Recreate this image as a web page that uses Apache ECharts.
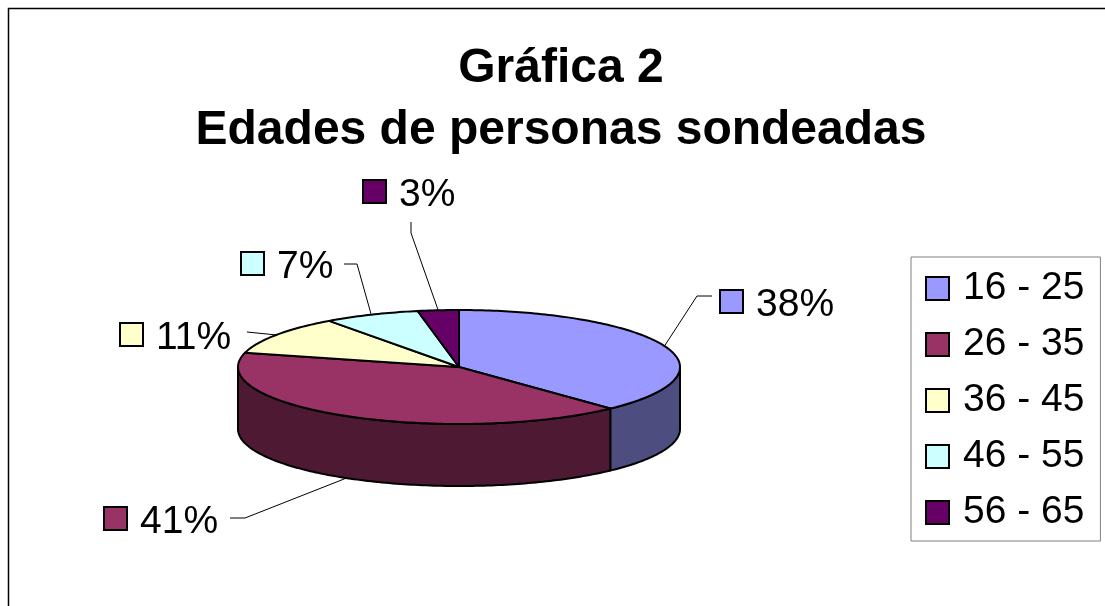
<!DOCTYPE html>
<html>
<head>
<meta charset="utf-8">
<title>Gráfica 2</title>
<script src="https://cdn.jsdelivr.net/npm/echarts@6/dist/echarts.min.js"></script>
<style>
  html, body { margin: 0; padding: 0; background: #fff; }
  #main { width: 1105px; height: 606px; }
</style>
</head>
<body>
<div id="main"></div>
<script>
var categories = ["16 - 25", "26 - 35", "36 - 45", "46 - 55", "56 - 65"];
var percentages = [38, 41, 11, 7, 3];

var topColors = ["#9999FF", "#993366", "#FFFFCC", "#CCFFFF", "#660066"];
var sideColors = ["#4D4D80", "#4D1933", "#808066", "#668080", "#330033"];

// flattened 3d pie, angles are degrees clockwise from north
var pie = { cx: 459, cy: 367, rx: 221, ry: 57, depth: 62 };

// key box corner, text start and leader elbows for each percent label
var labelLayout = [
  { box: [720, 290], text: [756, 305], elbows: [[697, 296], [712, 296]], onSide: false },
  { box: [104, 507], text: [140, 522], elbows: [[245, 518], [230, 518]], onSide: true },
  { box: [120, 323], text: [156, 338], elbows: [[247, 332]], onSide: false },
  { box: [241, 252], text: [277, 267], elbows: [[357, 264], [344, 264]], onSide: false },
  { box: [363, 180], text: [399, 195], elbows: [[411, 233], [411, 222]], onSide: false },
];

function ellipsePoint(deg, drop) {
  var r = (deg * Math.PI) / 180;
  return [
    pie.cx + pie.rx * Math.sin(r),
    pie.cy - pie.ry * Math.cos(r) + (drop || 0),
  ];
}

function arcPoints(from, to, drop) {
  var pts = [];
  var steps = Math.max(2, Math.ceil(Math.abs(to - from)));
  for (var i = 0; i <= steps; i++) {
    pts.push(ellipsePoint(from + ((to - from) * i) / steps, drop));
  }
  return pts;
}

function startPercent(index) {
  var sum = 0;
  for (var i = 0; i < index; i++) sum += percentages[i];
  return sum;
}

function makeRenderItem(index) {
  return function (params, api) {
    var value = api.value(0);
    var start = startPercent(index);
    var a0 = start * 3.6;
    var a1 = (start + value) * 3.6;
    var mid = (a0 + a1) / 2;
    var layout = labelLayout[index];
    var children = [];
    var edge = { stroke: "#000", lineWidth: 2, lineJoin: "round" };

    // the rim only shows on the front half
    var s0 = Math.max(a0, 90);
    var s1 = Math.min(a1, 270);
    if (s1 > s0) {
      children.push({
        type: "polygon",
        shape: { points: arcPoints(s0, s1, 0).concat(arcPoints(s1, s0, pie.depth)) },
        style: Object.assign({ fill: sideColors[index] }, edge),
      });
    }

    children.push({
      type: "polygon",
      shape: { points: [[pie.cx, pie.cy]].concat(arcPoints(a0, a1, 0)) },
      style: Object.assign({ fill: topColors[index] }, edge),
    });

    var anchor = ellipsePoint(mid, layout.onSide ? pie.depth : 0);
    children.push({
      type: "polyline",
      shape: { points: [anchor].concat(layout.elbows) },
      style: { stroke: "#000", lineWidth: 1, fill: null },
    });

    children.push({
      type: "rect",
      shape: { x: layout.box[0], y: layout.box[1], width: 23, height: 23 },
      style: { fill: topColors[index], stroke: "#000", lineWidth: 2 },
    });

    children.push({
      type: "text",
      style: {
        text: value + "%",
        x: layout.text[0],
        y: layout.text[1],
        fill: "#000",
        font: "39px 'Liberation Sans', Arial, sans-serif",
        textVerticalAlign: "middle",
      },
    });

    return { type: "group", children: children };
  };
}

var chartDom = document.getElementById("main");
var myChart = echarts.init(chartDom);

var series = categories.map(function (name, i) {
  return {
    name: name,
    type: "custom",
    coordinateSystem: "none",
    silent: true,
    itemStyle: { color: topColors[i] },
    data: [[percentages[i]]],
    renderItem: makeRenderItem(i),
  };
});

var option = {
  animation: false,
  backgroundColor: "#fff",
  title: {
    text: "Gráfica 2\nEdades de personas sondeadas",
    left: 556,
    top: 33,
    textAlign: "center",
    textStyle: {
      fontFamily: "'Liberation Sans', Arial, sans-serif",
      fontWeight: "bold",
      fontSize: 48,
      lineHeight: 62,
      color: "#000",
    },
  },
  legend: {
    orient: "vertical",
    left: 911,
    top: 257,
    padding: [12, 16, 9, 14],
    itemGap: 17,
    itemWidth: 23,
    itemHeight: 23,
    icon: "rect",
    selectedMode: false,
    borderColor: "#808080",
    borderWidth: 1,
    backgroundColor: "#fff",
    itemStyle: { borderColor: "#000", borderWidth: 2 },
    textStyle: {
      fontFamily: "'Liberation Sans', Arial, sans-serif",
      fontSize: 39,
      color: "#000",
      padding: [0, 0, 0, 9],
    },
    data: categories,
  },
  graphic: [
    {
      type: "rect",
      silent: true,
      z: -1,
      shape: { x: 8.5, y: 8.5, width: 1300, height: 800 },
      style: { fill: "#fff", stroke: "#000", lineWidth: 1.5 },
    },
  ],
  series: series,
};
option && myChart.setOption(option);
</script>
</body>
</html>
